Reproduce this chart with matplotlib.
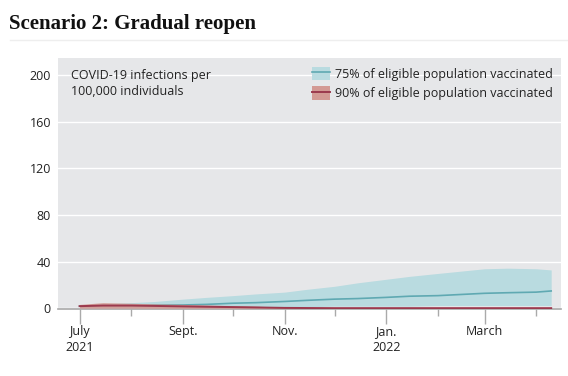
import matplotlib
matplotlib.use("Agg")
import matplotlib.pyplot as plt
from matplotlib.patches import Patch
from matplotlib.lines import Line2D
import pandas as pd

# ---- data ----
dates = ["2021-07-01", "2021-07-15", "2021-08-01", "2021-08-15", "2021-09-01",
         "2021-09-15", "2021-10-01", "2021-10-15", "2021-11-01", "2021-11-15",
         "2021-12-01", "2021-12-15", "2022-01-01", "2022-01-15", "2022-02-01",
         "2022-02-15", "2022-03-01", "2022-03-15", "2022-04-01", "2022-04-10"]
v75_upper = [3, 4, 5, 6, 8, 9.5, 11, 12.5, 14, 16.5, 19, 22, 25, 27.5, 30, 32, 34, 34.5, 34, 33]
v75_median = [2, 2.5, 2.5, 3, 3, 3.5, 4.5, 5, 6, 7, 8, 8.5, 9.5, 10.5, 11, 12, 13, 13.5, 14, 15]
v75_lower = [1, 1, 1, 1, 1, 1, 1, 1.5, 1.5, 1.5, 2, 2, 2, 2, 2.5, 2.5, 2.5, 2.5, 2.5, 2.5]
v90_upper = [3.5, 5, 4.5, 4, 3.5, 3, 2.5, 2, 1, 0.7, 0.5, 0.5, 0.5, 0.5, 0.5, 0.5, 0.5, 0.5, 0.5, 0.5]
v90_median = [2, 2.5, 2.5, 2.2, 1.8, 1.5, 1.2, 0.9, 0.5, 0.4, 0.3, 0.3, 0.3, 0.3, 0.3, 0.3, 0.3, 0.3, 0.3, 0.3]
v90_lower = [0.3, 0.3, 0.3, 0.2, 0.2, 0.2, 0.1, 0.1, 0, 0, 0, 0, 0, 0, 0, 0, 0, 0, 0, 0]
y_ticks = [0, 40, 80, 120, 160, 200]
x_tick_dates = ["2021-07-01", "2021-09-01", "2021-11-01", "2022-01-01", "2022-03-01"]
x_tick_labels = ["July\n2021", "Sept.", "Nov.", "Jan.\n2022", "March"]
minor_tick_dates = ["2021-08-01", "2021-10-01", "2021-12-01", "2022-02-01", "2022-04-01"]
title = "Scenario 2: Gradual reopen"
note = "COVID-19 infections per\n100,000 individuals"
legend_labels = ["75% of eligible population vaccinated", "90% of eligible population vaccinated"]

x = pd.to_datetime(dates)

teal_fill = "#b9dbe0"
teal_line = "#5fa9b2"
red_fill = "#d39a94"
red_line = "#9c3a4e"
bg = "#e6e7e9"
txt = "#222222"
font = ["Open Sans", "DejaVu Sans"]

fig = plt.figure(figsize=(5.68, 3.76), dpi=100)
ax = fig.add_axes([0.102, 0.178, 0.886, 0.668])
ax.set_facecolor(bg)

ax.fill_between(x, v75_lower, v75_upper, color=teal_fill, lw=0, zorder=2)
ax.plot(x, v75_median, color=teal_line, lw=1.2, zorder=3)
ax.fill_between(x, v90_lower, v90_upper, color=red_fill, alpha=0.9, lw=0, zorder=4)
ax.plot(x, v90_median, color=red_line, lw=1.4, zorder=5)

ax.set_ylim(-0.5, 214.5)
ax.set_xlim(pd.Timestamp("2021-06-18"), pd.Timestamp("2022-04-16"))

ax.set_yticks(y_ticks)
ax.set_yticklabels([str(v) for v in y_ticks], family=font, fontsize=9, color=txt)
ax.tick_params(axis="y", length=0, pad=5)
ax.grid(axis="y", color="white", lw=1, zorder=1)
ax.set_axisbelow(True)

ax.set_xticks(pd.to_datetime(x_tick_dates))
ax.set_xticklabels(x_tick_labels, family=font, fontsize=9, color=txt, linespacing=1.25)
ax.set_xticks(pd.to_datetime(minor_tick_dates), minor=True)
ax.tick_params(axis="x", which="major", length=11, width=1, color="#aaaaaa", pad=0.5)
ax.tick_params(axis="x", which="minor", length=5, width=1, color="#aaaaaa")

for s in ["top", "right", "left"]:
    ax.spines[s].set_visible(False)
ax.spines["bottom"].set_color("#a8a8a8")
ax.spines["bottom"].set_linewidth(1.2)

ax.text(0.025, 0.955, note, transform=ax.transAxes, ha="left", va="top",
        family=font, fontsize=9, color=txt, linespacing=1.25)

handles = [
    (Patch(facecolor=teal_fill, edgecolor="none"), Line2D([], [], color=teal_line, lw=1.2)),
    (Patch(facecolor=red_fill, edgecolor="none"), Line2D([], [], color=red_line, lw=1.4)),
]
leg = ax.legend(handles, legend_labels, loc="upper right", frameon=False,
                prop={"family": font, "size": 9}, handlelength=1.4, handleheight=1.3,
                handletextpad=0.4, labelspacing=0.45, borderaxespad=0.3)
for t in leg.get_texts():
    t.set_color(txt)

fig.text(0.016, 0.937, title, family=["Liberation Serif", "DejaVu Serif"], fontweight="bold",
         fontsize=15, color="#111111", ha="left", va="center")
fig.add_artist(Line2D([0.018, 1.0], [0.893, 0.893], color="#eeeeee", lw=1, transform=fig.transFigure))

fig.savefig("out.png", dpi=100, facecolor="white")
